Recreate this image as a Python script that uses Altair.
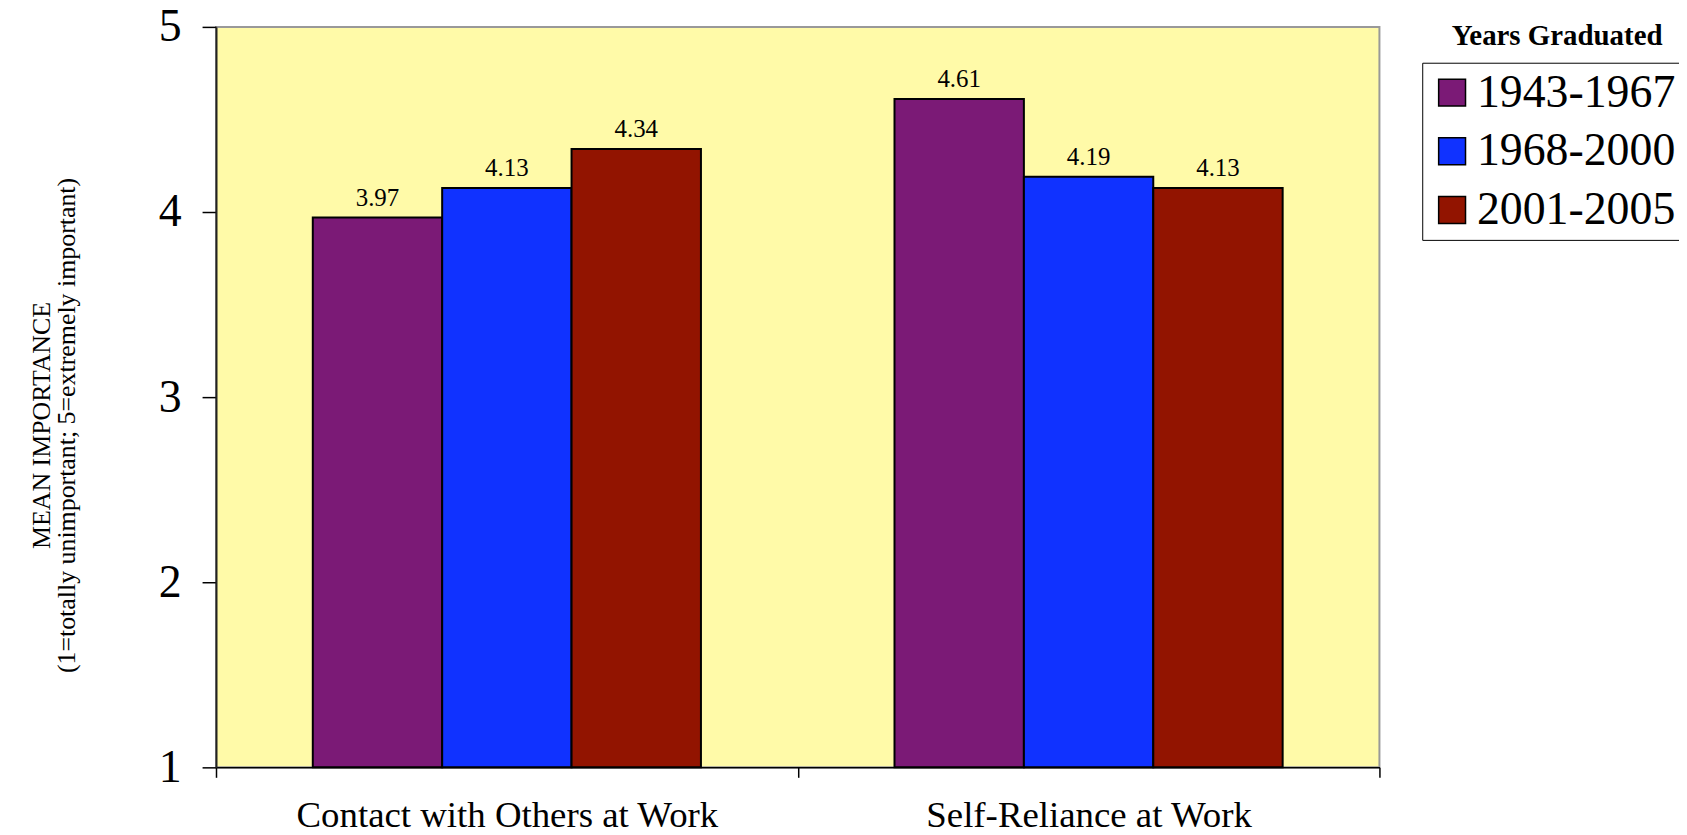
import altair as alt
import pandas as pd

categories = ["Contact with Others at Work", "Self-Reliance at Work"]
groups = ["1943-1967", "1968-2000", "2001-2005"]
values_1943_1967 = [3.97, 4.61]
values_1968_2000 = [4.13, 4.19]
values_2001_2005 = [4.34, 4.13]
colors = ["#7B1A76", "#1032FF", "#921400"]
y_ticks = [1, 2, 3, 4, 5]

rows = []
for g, vals in zip(groups, [values_1943_1967, values_1968_2000, values_2001_2005]):
    for c, v in zip(categories, vals):
        rows.append({"category": c, "group": g, "value": v})
df = pd.DataFrame(rows)

FONT = "Liberation Serif"

x = alt.X(
    "category:N", sort=categories,
    scale=alt.Scale(paddingInner=0, paddingOuter=0),
    axis=alt.Axis(title="Years Graduated", titleFont=FONT, titleFontSize=29,
                  titleFontWeight="bold", titleColor="black", titleX=1347,
                  titleY=-726, titleAlign="center", titleBaseline="alphabetic",
                  labelAngle=0, labelFont=FONT, labelFontSize=37,
                  labelColor="black", labelPadding=20, tickBand="extent",
                  tickSize=10, tickColor="black", tickWidth=1.5,
                  domainColor="black", domainWidth=1.5, labelLimit=700),
)
xo = alt.XOffset("group:N", sort=groups,
                 scale=alt.Scale(paddingInner=0, paddingOuter=0.748))
y = alt.Y(
    "value:Q",
    scale=alt.Scale(domain=[1, 5], nice=False, zero=False),
    axis=alt.Axis(values=y_ticks, format="d", grid=False,
                  title=["MEAN IMPORTANCE", "(1=totally unimportant; 5=extremely important)"],
                  titleFont=FONT, titleFontSize=26, titleFontWeight="normal",
                  titleColor="black", titleAngle=270, titleX=-175, titleY=400,
                  titleAlign="center", titleBaseline="middle", titleLineHeight=25,
                  labelFont=FONT, labelFontSize=46, labelColor="black",
                  labelPadding=21, labelFlush=False, tickSize=14,
                  tickColor="black", tickWidth=1.5,
                  domainColor="#222222", domainWidth=2),
)

bars = alt.Chart(df).mark_bar(stroke="black", strokeWidth=2).encode(
    x=x, xOffset=xo, y=y, y2=alt.datum(1),
    color=alt.Color(
        "group:N",
        scale=alt.Scale(domain=groups, range=colors),
        legend=alt.Legend(title=None, orient="none", legendX=1212, legendY=36,
                          symbolType="square", symbolSize=729,
                          symbolStrokeColor="black", symbolStrokeWidth=1.5,
                          symbolOpacity=1, labelFont=FONT, labelFontSize=46,
                          labelColor="black", labelOffset=2, rowPadding=13,
                          padding=7, strokeColor="black", fillColor="white",
                          labelLimit=500),
    ),
)

labels = alt.Chart(df).mark_text(
    font=FONT, fontSize=25, baseline="alphabetic", dy=-12, color="black"
).encode(x=x, xOffset=xo, y=y, text=alt.Text("value:Q", format=".2f"))

chart = alt.layer(bars, labels).properties(
    width=1169, height=744,
    padding={"left": 209, "top": 17, "right": 301, "bottom": 70},
    autosize="none",
).configure_view(fill="#FFFAA8", stroke="#999999", strokeWidth=2)

chart.save("out.html", embed_options={"renderer": "svg", "actions": False})
